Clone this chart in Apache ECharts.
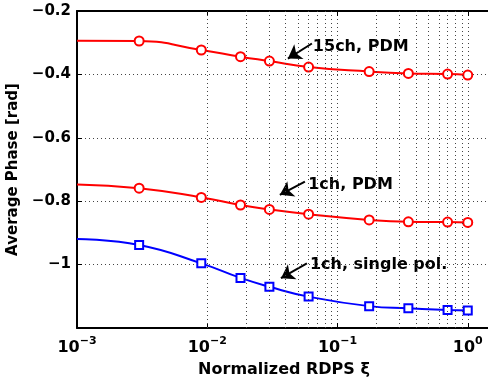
<!DOCTYPE html>
<html>
<head>
<meta charset="utf-8">
<script src="https://cdn.jsdelivr.net/npm/echarts@6/dist/echarts.min.js"></script>
<style>html,body{margin:0;padding:0;background:#fff}#c{width:488px;height:385px}</style>
</head>
<body>
<div id="c"></div>
<script>
// ---- data ----
const xStart = 0.001;
const xValues = [0.003, 0.009, 0.018, 0.03, 0.06, 0.175, 0.35, 0.7, 1];
const ch15PDM = [-0.2946, -0.323, -0.344, -0.358, -0.377, -0.391, -0.397, -0.399, -0.402];
const ch15PDMStart = -0.2937;
const ch1PDM = [-0.759, -0.788, -0.812, -0.826, -0.841, -0.859, -0.865, -0.866, -0.867];
const ch1PDMStart = -0.747;
const ch1Single = [-0.938, -0.996, -1.042, -1.070, -1.101, -1.131, -1.138, -1.143, -1.145];
const ch1SingleStart = -0.919;
const annotationTexts = ['15ch, PDM', '1ch, PDM', '1ch, single pol.'];
const annotationTextAt = [[0.0647, -0.3126], [0.0596, -0.749], [0.0614, -1.001]];
const arrowFrom = [[0.0636, -0.3025], [0.0562, -0.7385], [0.0582, -0.996]];
const arrowTo = [[0.0416, -0.350], [0.0361, -0.780], [0.0368, -1.043]];
const minorGrid = [];
[0.001, 0.01, 0.1].forEach(d => { for (let k = 2; k <= 9; k++) minorGrid.push(+(k * d).toPrecision(3)); });

const FONT = 'DejaVu Sans';
function build(start, vals) {
  const arr = [{ value: [xStart, start], symbol: 'none' }];
  xValues.forEach((x, i) => arr.push([x, vals[i]]));
  return arr;
}
const dotted = { color: '#444', width: 1, type: [1, 3] };

const chart = echarts.init(document.getElementById('c'), null, { renderer: 'canvas' });
const option = {
  animation: false,
  backgroundColor: '#fff',
  grid: { left: 77, top: 11, width: 521, height: 317, containLabel: false, outerBoundsMode: 'none' },
  xAxis: [{
    type: 'log', logBase: 10, min: 0.001, max: 10,
    axisLine: { lineStyle: { color: '#000', width: 2 } },
    axisTick: { inside: true, length: 5, lineStyle: { color: '#000', width: 1 } },
    splitLine: { show: true, lineStyle: dotted },
    axisLabel: {
      margin: 8, color: '#000',
      formatter: v => {
        const e = Math.round(Math.log10(v));
        return '{b|10}{s|' + (e < 0 ? '\u2212' + (-e) : e) + '}';
      },
      rich: {
        b: { fontFamily: FONT, fontWeight: 'bold', fontSize: 16, color: '#000' },
        s: { fontFamily: FONT, fontWeight: 'bold', fontSize: 11, color: '#000', padding: [0, 0, 12, 0] }
      }
    }
  }, {
    type: 'log', logBase: 10, min: 0.001, max: 10, position: 'top',
    axisLine: { lineStyle: { color: '#000', width: 2 } },
    axisTick: { inside: true, length: 5, lineStyle: { color: '#000' } },
    axisLabel: { show: false }, splitLine: { show: false }
  }],
  yAxis: {
    type: 'value', min: -1.2, max: -0.2, interval: 0.2,
    name: 'Average Phase [rad]', nameLocation: 'middle', nameGap: 52,
    nameTextStyle: { fontFamily: FONT, fontWeight: 'bold', fontSize: 15, color: '#000' },
    axisLine: { lineStyle: { color: '#000', width: 2 } },
    axisTick: { inside: true, length: 5, lineStyle: { color: '#000' } },
    splitLine: { show: true, lineStyle: dotted },
    axisLabel: {
      showMinLabel: false, margin: 6, color: '#000', fontFamily: FONT, fontWeight: 'bold', fontSize: 15,
      formatter: v => {
        if (Math.abs(v - Math.round(v)) < 1e-9) return (v < 0 ? '\u2212' : '') + Math.abs(Math.round(v));
        return (v < 0 ? '\u2212' : '') + Math.abs(v).toFixed(1);
      }
    }
  },
  graphic: [{
    type: 'text', x: 284, y: 370,
    style: { text: 'Normalized RDPS \u03be', fontFamily: FONT, fontWeight: 'bold', fontSize: 16, fill: '#000', align: 'center', verticalAlign: 'middle' }
  }],
  series: [
    {
      type: 'line', name: 'grid', z: 1, symbol: 'none', silent: true,
      data: [[0.001, -1.2]], lineStyle: { opacity: 0 },
      markLine: {
        silent: true, symbol: 'none', label: { show: false },
        lineStyle: dotted, animation: false,
        data: minorGrid.map(v => ({ xAxis: v }))
      }
    },
    {
      type: 'line', name: '15ch, PDM', z: 3, smooth: 0.5,
      data: build(ch15PDMStart, ch15PDM),
      symbol: 'circle', symbolSize: 9,
      lineStyle: { color: '#ff0000', width: 2 },
      itemStyle: { color: '#fff', borderColor: '#ff0000', borderWidth: 2 }
    },
    {
      type: 'line', name: '1ch, PDM', z: 3, smooth: 0.5,
      data: build(ch1PDMStart, ch1PDM),
      symbol: 'circle', symbolSize: 9,
      lineStyle: { color: '#ff0000', width: 2 },
      itemStyle: { color: '#fff', borderColor: '#ff0000', borderWidth: 2 }
    },
    {
      type: 'line', name: '1ch, single pol.', z: 3, smooth: 0.5,
      data: build(ch1SingleStart, ch1Single),
      symbol: 'rect', symbolSize: 8,
      lineStyle: { color: '#0000ff', width: 2 },
      itemStyle: { color: '#fff', borderColor: '#0000ff', borderWidth: 2 }
    },
    {
      type: 'lines', coordinateSystem: 'cartesian2d', z: 4, silent: true,
      symbol: ['none', 'arrow'], symbolSize: [0, 13],
      lineStyle: { color: '#000', width: 2, opacity: 1 },
      itemStyle: { color: '#000' },
      data: arrowFrom.map((p, i) => ({ coords: [p, arrowTo[i]] }))
    },
    {
      type: 'scatter', z: 4, symbolSize: 0, silent: true,
      data: annotationTexts.map((t, i) => ({ value: annotationTextAt[i], name: t })),
      label: {
        show: true, position: 'right', distance: 0, formatter: p => p.name, opacity: 1,
        fontFamily: FONT, fontWeight: 'bold', fontSize: 16, color: '#000', textBorderWidth: 0
      }
    }
  ]
};
chart.setOption(option);
</script>
</body>
</html>
